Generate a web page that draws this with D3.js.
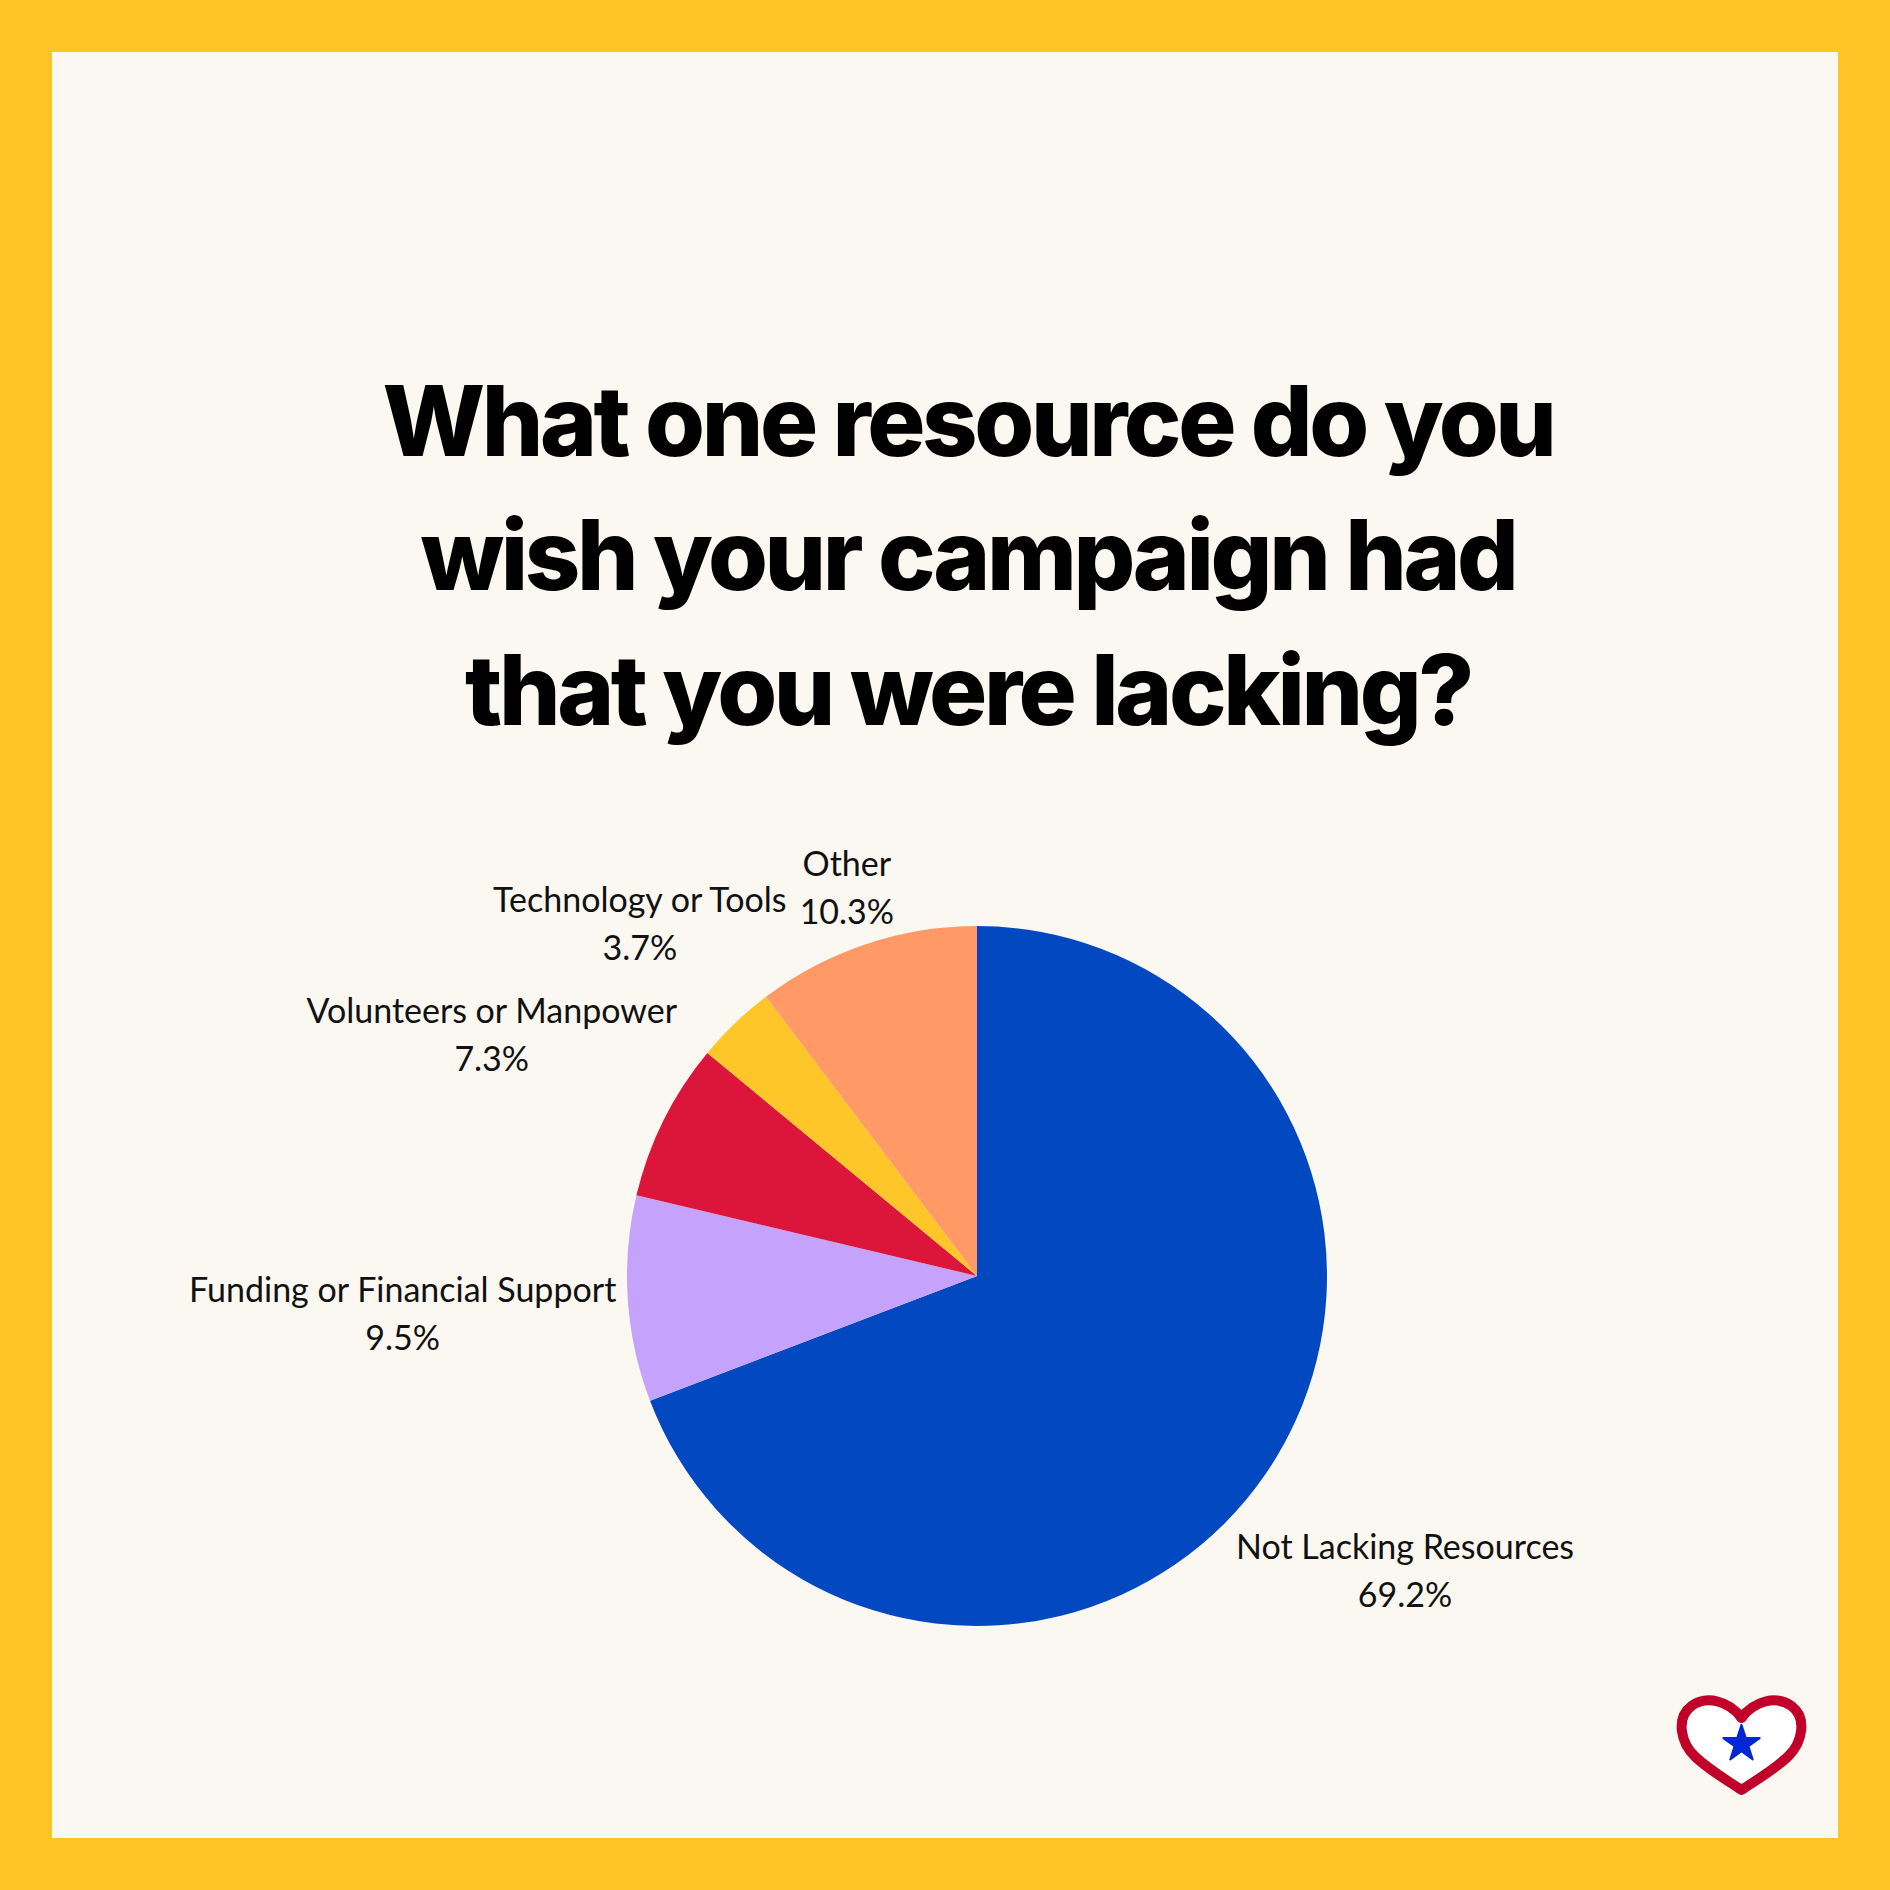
<!DOCTYPE html>
<html>
<head>
<meta charset="utf-8">
<script src="https://cdn.jsdelivr.net/npm/d3@7"></script>
<style>
  html, body { margin: 0; padding: 0; background: #FFC526; }
  svg { display: block; }
</style>
</head>
<body>
<svg id="chart" width="1890" height="1890"></svg>
<script>
// ---- data ----
const titleLines = ["What one resource do you", "wish your campaign had", "that you were lacking?"];
const categories = ["Not Lacking Resources", "Funding or Financial Support", "Volunteers or Manpower", "Technology or Tools", "Other"];
const values = [69.2, 9.5, 7.3, 3.7, 10.3];
const valueLabels = ["69.2%", "9.5%", "7.3%", "3.7%", "10.3%"];
const colors = ["#0249C1", "#C5A3FC", "#DC153B", "#FFC629", "#FF9965"];

// ---- layout ----
const W = 1890, H = 1890;
const svg = d3.select("#chart");
svg.append("rect").attr("width", W).attr("height", H).attr("fill", "#FFC526");
svg.append("rect").attr("x", 52).attr("y", 52).attr("width", W - 104).attr("height", H - 104).attr("fill", "#FBF8F1");

// title
const title = svg.append("g");
const titleBaselines = [456, 590, 725];
title.selectAll("text").data(titleLines).join("text")
  .attr("x", 968)
  .attr("y", (d, i) => titleBaselines[i])
  .attr("text-anchor", "middle")
  .attr("font-family", "Inter, 'Noto Sans', sans-serif")
  .attr("font-weight", 800)
  .attr("font-size", 97)
  .attr("letter-spacing", -3.4)
  .attr("fill", "#000")
  .text(d => d);

// pie
const cx = 977, cy = 1276, R = 350;
const data = categories.map((c, i) => ({ cat: c, value: values[i], label: valueLabels[i], color: colors[i] }));
const pie = d3.pie().sort(null).value(d => d.value).startAngle(0).endAngle(2 * Math.PI);
const arc = d3.arc().innerRadius(0).outerRadius(R);
const arcs = pie(data);

const g = svg.append("g").attr("transform", `translate(${cx},${cy})`);
g.selectAll("path").data(arcs).join("path")
  .attr("d", arc)
  .attr("fill", d => d.data.color);

// labels placed outside along mid-angle ray
const fs = 34, lineGap = 48, capH = 0.72 * fs, gap = 10;
const labels = g.selectAll("g.lab").data(arcs).join("g").attr("class", "lab");
labels.each(function(d) {
  const grp = d3.select(this);
  const t1 = grp.append("text").attr("text-anchor", "middle")
    .attr("font-family", "Lato, sans-serif").attr("font-size", fs).attr("fill", "#111")
    .text(d.data.cat);
  const t2 = grp.append("text").attr("text-anchor", "middle")
    .attr("font-family", "Lato, sans-serif").attr("font-size", fs).attr("fill", "#111")
    .text(d.data.label);
  const w = Math.max(t1.node().getComputedTextLength(), t2.node().getComputedTextLength());
  const h = capH + lineGap;
  const a = (d.startAngle + d.endAngle) / 2;
  const sx = Math.sin(a), sy = -Math.cos(a);
  const D = R + gap + (w / 2) * Math.abs(sx) + (h / 2) * Math.abs(sy);
  const px = D * sx, py = D * sy;
  const b1 = py - h / 2 + capH;
  t1.attr("x", px).attr("y", b1);
  t2.attr("x", px).attr("y", b1 + lineGap);
});

// heart logo
const logo = svg.append("g").attr("transform", "translate(1741.5,1743)");
logo.append("path")
  .attr("d", "M0,-25 C-12,-42 -35,-48 -50,-37 C-66,-25 -61,0 -46,14 C-31,28 -13,38 0,47 C13,38 31,28 46,14 C61,0 66,-25 50,-37 C35,-48 12,-42 0,-25 Z")
  .attr("fill", "#FFFFFF")
  .attr("stroke", "#C00028")
  .attr("stroke-width", 10)
  .attr("stroke-linejoin", "round");
logo.append("path")
  .attr("d", d3.symbol(d3.symbolStar, 410)())
  .attr("transform", "translate(0,1)")
  .attr("fill", "#0026D6")
  .attr("stroke", "#0026D6")
  .attr("stroke-width", 2)
  .attr("stroke-linejoin", "round");
</script>
</body>
</html>
